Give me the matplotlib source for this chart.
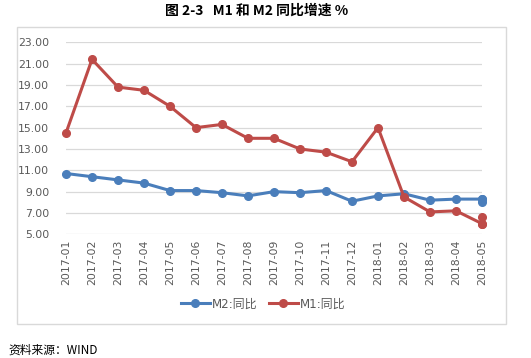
# M1 / M2 year-on-year growth chart
import matplotlib
matplotlib.use('Agg')
import matplotlib.pyplot as plt
from matplotlib.patches import Rectangle
import numpy as np

plt.rcParams['font.family'] = ['DejaVu Sans', 'Noto Sans CJK SC']

# Data
months = ['2017-01', '2017-02', '2017-03', '2017-04', '2017-05', '2017-06',
          '2017-07', '2017-08', '2017-09', '2017-10', '2017-11', '2017-12',
          '2018-01', '2018-02', '2018-03', '2018-04', '2018-05']
m2 = [10.7, 10.4, 10.1, 9.8, 9.1, 9.1, 8.9, 8.6, 9.0, 8.9, 9.1, 8.1,
      8.6, 8.8, 8.2, 8.3, 8.3]
m1 = [14.5, 21.4, 18.8, 18.5, 17.0, 15.0, 15.3, 14.0, 14.0, 13.0, 12.7, 11.8,
      15.0, 8.5, 7.1, 7.2, 6.0]
# second value shown at the last month for each series
m2_extra = [8.0]
m1_extra = [6.6]
yticks = np.arange(5, 24, 2)

blue = '#4A7EBB'
red = '#BE4B48'
grey_text = '#595959'

fig = plt.figure(figsize=(5.31, 3.58), dpi=100)

# chart frame
fig.patches.append(Rectangle((17/531, 1-324/358), 489/531, 297/358,
                             transform=fig.transFigure, facecolor='none',
                             edgecolor='#D9D9D9', linewidth=1.0))

ax = fig.add_axes([66/531, 1-234.3/358, 416/531, 192/358])
x = np.arange(len(months))

l2, = ax.plot(x, m2, color=blue, lw=2.2, marker='o', ms=5.5, clip_on=False,
              zorder=3, label='M2:同比')
l1, = ax.plot(x, m1, color=red, lw=2.2, marker='o', ms=5.5, clip_on=False,
              zorder=4, label='M1:同比')
xe = [x[-1]] * len(m2_extra)
ax.plot([x[-1]] + xe, [m2[-1]] + m2_extra, color=blue, lw=2.2, marker='o',
        ms=5.5, clip_on=False, zorder=3)
ax.plot([x[-1]] + xe, [m1[-1]] + m1_extra, color=red, lw=2.2, marker='o',
        ms=5.5, clip_on=False, zorder=4)

ax.set_xlim(0, len(months) - 1)
ax.set_ylim(5, 23)
ax.set_yticks(yticks)
ax.set_yticklabels(['%.2f' % v for v in yticks])
ax.set_xticks(x)
ax.set_xticklabels(months, rotation=90)
ax.tick_params(axis='both', length=0, labelsize=7.8, colors=grey_text)
ax.tick_params(axis='y', pad=12)
ax.tick_params(axis='x', pad=4)
ax.grid(axis='y', color='#D9D9D9', lw=0.9)
ax.set_axisbelow(True)
for s in ax.spines.values():
    s.set_visible(False)

leg = fig.legend(handles=[l2, l1], loc='center', bbox_to_anchor=(263/531, 1-304/358),
                 ncol=2, frameon=False, handlelength=2.4,
                 columnspacing=1.0, handletextpad=0.15,
                 prop={'family': ['DejaVu Sans', 'Noto Sans CJK SC'], 'size': 8.6})
for t in leg.get_texts():
    t.set_color(grey_text)

fig.text(257/531, 1-11/358, '图 2-3   M1 和 M2 同比增速 %', ha='center', va='center',
         fontsize=10, fontweight='bold', family=['Noto Sans CJK SC', 'DejaVu Sans'])
fig.text(8/531, 1-350/358, '资料来源：WIND', ha='left', va='center',
         fontsize=8.5, family=['Noto Sans CJK SC', 'DejaVu Sans'])

plt.savefig('out.png', dpi=100, facecolor='white')
